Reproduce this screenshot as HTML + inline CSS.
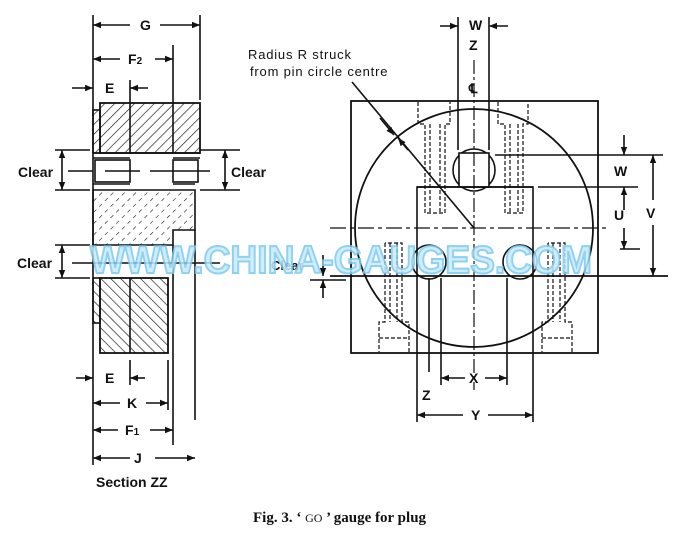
<!DOCTYPE html>
<html><head><meta charset="utf-8"><style>
html,body{margin:0;padding:0;background:#fff;width:690px;height:536px;overflow:hidden}
svg{display:block}
text{font-family:"Liberation Sans",sans-serif;fill:#111}
</style></head><body>
<svg width="690" height="536" viewBox="0 0 690 536" xmlns="http://www.w3.org/2000/svg">
<defs>
<pattern id="h1" width="7" height="7" patternUnits="userSpaceOnUse" patternTransform="rotate(45)"><line x1="0" y1="0" x2="0" y2="7" stroke="#111" stroke-width="1.3"/></pattern>
<pattern id="h2" width="8" height="8" patternUnits="userSpaceOnUse" patternTransform="rotate(45)"><line x1="0" y1="0" x2="0" y2="4" stroke="#111" stroke-width="1.2"/></pattern>
<pattern id="h3" width="7" height="7" patternUnits="userSpaceOnUse" patternTransform="rotate(-45)"><line x1="0" y1="0" x2="0" y2="7" stroke="#111" stroke-width="1.3"/></pattern>
<marker id="a" viewBox="0 0 10 10" refX="10" refY="5" markerWidth="7" markerHeight="5" orient="auto-start-reverse"><path d="M0,1 L10,5 L0,9 z" fill="#111"/></marker>
</defs>
<g stroke="#111" stroke-width="1.6" fill="none">
<!-- LEFT SECTION -->
<line x1="93" y1="15" x2="93" y2="465"/>
<line x1="200" y1="15" x2="200" y2="100"/>
<line x1="173" y1="45" x2="173" y2="153"/>
<line x1="130" y1="80" x2="130" y2="153"/>
<line x1="93" y1="25" x2="130" y2="25" marker-start="url(#a)"/>
<line x1="160" y1="25" x2="200" y2="25" marker-end="url(#a)"/>
<line x1="93" y1="59" x2="120" y2="59" marker-start="url(#a)"/>
<line x1="155" y1="59" x2="173" y2="59" marker-end="url(#a)"/>
<line x1="72" y1="88" x2="93" y2="88" marker-end="url(#a)"/>
<line x1="148" y1="88" x2="130" y2="88" marker-end="url(#a)"/>
<rect x="100" y="103" width="100" height="50" fill="url(#h1)" stroke-width="1.8"/>
<rect x="93" y="110" width="7" height="43" fill="url(#h1)"/>
<line x1="93" y1="153" x2="200" y2="153"/><line x1="93" y1="158" x2="130" y2="158"/><line x1="173" y1="158" x2="200" y2="158"/>
<rect x="95" y="160" width="35" height="22"/><rect x="173" y="160" width="25" height="22"/>
<line x1="93" y1="184" x2="130" y2="184"/><line x1="173" y1="184" x2="195" y2="184"/>
<path d="M93,190 H195 V230 H173 V245 H93 Z" fill="url(#h2)"/>
<line x1="195" y1="230" x2="195" y2="420"/>
<line x1="173" y1="245" x2="173" y2="445"/>
<rect x="100" y="278" width="68" height="75" fill="url(#h3)" stroke-width="1.8"/>
<rect x="93" y="278" width="7" height="45" fill="url(#h3)"/>
<line x1="130" y1="278" x2="130" y2="353"/>
<line x1="55" y1="150" x2="90" y2="150"/><line x1="55" y1="190" x2="90" y2="190"/>
<line x1="62" y1="150" x2="62" y2="190" marker-start="url(#a)" marker-end="url(#a)"/>
<line x1="68" y1="171" x2="93" y2="171"/><line x1="105" y1="171" x2="140" y2="171"/><line x1="150" y1="171" x2="210" y2="171"/>
<line x1="200" y1="150" x2="240" y2="150"/><line x1="200" y1="190" x2="240" y2="190"/>
<line x1="225" y1="150" x2="225" y2="190" marker-start="url(#a)" marker-end="url(#a)"/>
<line x1="55" y1="245" x2="90" y2="245"/><line x1="55" y1="278" x2="90" y2="278"/>
<line x1="62" y1="245" x2="62" y2="278" marker-start="url(#a)" marker-end="url(#a)"/>
<line x1="72" y1="263" x2="220" y2="263"/>
<line x1="130" y1="360" x2="130" y2="385"/>
<line x1="168" y1="360" x2="168" y2="410"/>
<line x1="76" y1="378" x2="93" y2="378" marker-end="url(#a)"/>
<line x1="145" y1="378" x2="130" y2="378" marker-end="url(#a)"/>
<line x1="93" y1="403" x2="120" y2="403" marker-start="url(#a)"/>
<line x1="146" y1="403" x2="168" y2="403" marker-end="url(#a)"/>
<line x1="93" y1="430" x2="118" y2="430" marker-start="url(#a)"/>
<line x1="150" y1="430" x2="173" y2="430" marker-end="url(#a)"/>
<line x1="93" y1="458" x2="130" y2="458" marker-start="url(#a)"/>
<line x1="155" y1="458" x2="195" y2="458" marker-end="url(#a)"/>
<!-- RIGHT VIEW -->
<rect x="351" y="101" width="247" height="252" stroke-width="1.8"/>
<circle cx="474" cy="228" r="119" stroke-width="1.8"/>
<path d="M417,276 V187 H533 V276"/>
<circle cx="474" cy="170" r="21"/>
<rect x="459" y="153" width="30" height="34" fill="#fff"/>
<path d="M417,187 H533" stroke-width="1.8"/>
<circle cx="429" cy="262" r="17"/><circle cx="520" cy="262" r="17"/>
<line x1="330" y1="276" x2="668" y2="276" stroke-width="1.8"/>
<g stroke-dasharray="4,2" stroke-width="1.2">
<path d="M418,102 V124 H425 V213 H445 V124 H450 V102"/>
<line x1="430" y1="124" x2="430" y2="213"/><line x1="440" y1="124" x2="440" y2="213"/>
<path d="M498,102 V124 H505 V213 H523 V124 H528 V102"/>
<line x1="510" y1="124" x2="510" y2="213"/><line x1="518" y1="124" x2="518" y2="213"/>
<path d="M385,243 V322 H379 V352 M409,352 V322 H402 V243 H385"/>
<line x1="390" y1="243" x2="390" y2="322"/><line x1="397" y1="243" x2="397" y2="322"/>
<line x1="379" y1="338" x2="409" y2="338"/>
<path d="M548,243 V322 H542 V352 M572,352 V322 H565 V243 H548"/>
<line x1="553" y1="243" x2="553" y2="322"/><line x1="560" y1="243" x2="560" y2="322"/>
<line x1="542" y1="338" x2="572" y2="338"/>
</g>
<line x1="474" y1="60" x2="474" y2="390" stroke-dasharray="14,3,3,3" stroke-width="1.2"/>
<line x1="330" y1="228" x2="608" y2="228" stroke-dasharray="16,4,4,4" stroke-width="1.2"/>
<line x1="458" y1="17" x2="458" y2="150"/><line x1="489" y1="17" x2="489" y2="150"/>
<line x1="440" y1="26" x2="458" y2="26" marker-end="url(#a)"/>
<line x1="508" y1="26" x2="489" y2="26" marker-end="url(#a)"/>
<line x1="352" y1="82" x2="474" y2="228"/>
<line x1="380" y1="118" x2="394" y2="135" marker-end="url(#a)"/>
<line x1="408" y1="150" x2="398" y2="138" marker-end="url(#a)"/>
<line x1="495" y1="155" x2="663" y2="155"/>
<line x1="538" y1="187" x2="638" y2="187"/>
<line x1="620" y1="249" x2="640" y2="249"/>
<line x1="624" y1="135" x2="624" y2="155" marker-end="url(#a)"/>
<line x1="624" y1="210" x2="624" y2="187" marker-end="url(#a)"/>
<line x1="624" y1="228" x2="624" y2="249" marker-end="url(#a)"/>
<line x1="653" y1="155" x2="653" y2="200" marker-start="url(#a)"/>
<line x1="653" y1="225" x2="653" y2="276" marker-end="url(#a)"/>
<line x1="323" y1="255" x2="323" y2="276" marker-end="url(#a)"/>
<line x1="323" y1="298" x2="323" y2="280" marker-end="url(#a)"/>
<line x1="310" y1="280" x2="346" y2="280"/>
<line x1="429" y1="278" x2="429" y2="372"/>
<line x1="441" y1="278" x2="441" y2="385"/><line x1="507" y1="278" x2="507" y2="385"/>
<line x1="417" y1="276" x2="417" y2="422"/><line x1="533" y1="276" x2="533" y2="422"/>
<line x1="441" y1="378" x2="465" y2="378" marker-start="url(#a)"/>
<line x1="485" y1="378" x2="507" y2="378" marker-end="url(#a)"/>
<line x1="417" y1="415" x2="463" y2="415" marker-start="url(#a)"/>
<line x1="488" y1="415" x2="533" y2="415" marker-end="url(#a)"/>
</g>
<g font-size="14" font-weight="bold">
<text x="140" y="30">G</text>
<text x="128" y="64">F<tspan font-size="10">2</tspan></text>
<text x="105" y="93">E</text>
<text x="18" y="177">Clear</text>
<text x="231" y="177">Clear</text>
<text x="17" y="268">Clear</text>
<text x="105" y="383">E</text>
<text x="127" y="408">K</text>
<text x="125" y="435">F<tspan font-size="10">1</tspan></text>
<text x="134" y="463">J</text>
<text x="96" y="487">Section ZZ</text>
<text x="469" y="30">W</text>
<text x="469" y="50">Z</text>
<text x="469" y="93" font-size="13">℄</text>
<text x="614" y="176">W</text>
<text x="614" y="220">U</text>
<text x="646" y="218">V</text>
<text x="469" y="383">X</text>
<text x="422" y="400">Z</text>
<text x="471" y="420">Y</text>
<text x="248" y="59" font-weight="normal" font-size="13" letter-spacing="0.8">Radius R struck</text>
<text x="250" y="76" font-weight="normal" font-size="13" letter-spacing="0.8">from pin circle centre</text>
<text x="271" y="270" font-size="13" fill="#555">Clear</text>
</g>
<text x="90" y="273" font-size="39" font-weight="bold" textLength="502" lengthAdjust="spacingAndGlyphs" style="fill:#c8ebfb;stroke:#7ccaf0;stroke-width:2;opacity:.85">WWW.CHINA-GAUGES.COM</text>
<text x="253" y="522" style="font-family:'Liberation Serif',serif;font-size:15px;font-weight:bold">Fig. 3. ‘ <tspan style="font-weight:normal;font-size:12px">GO</tspan> ’ gauge for plug</text>
</svg>
</body></html>
